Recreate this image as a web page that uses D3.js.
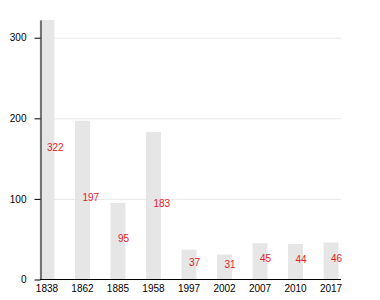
<!DOCTYPE html>
<html>
<head>
<meta charset="utf-8">
<script src="https://cdn.jsdelivr.net/npm/d3@7"></script>
<style>
  body { margin: 0; background: #fff; }
  svg { display: block; font-family: "Liberation Sans", Arial, sans-serif; }
</style>
</head>
<body>
<svg width="380" height="300"></svg>
<script>
const years = ["1838", "1862", "1885", "1958", "1997", "2002", "2007", "2010", "2017"];
const counts = [322, 197, 95, 183, 37, 31, 45, 44, 46];
const yTicks = [0, 100, 200, 300];

const svg = d3.select("svg");

// plot edges
const plotLeft = 40, plotRight = 341, plotTop = 20, plotBottom = 279.5;

const x = d3.scaleBand()
    .domain(years)
    .range([39.5, 338.5])
    .paddingInner(0.58)
    .paddingOuter(0);

const y = d3.scaleLinear()
    .domain([0, d3.max(counts)])
    .range([plotBottom, plotTop]);

// grid lines
svg.append("g")
    .selectAll("line")
    .data(yTicks.filter(d => d > 0))
    .enter()
    .append("line")
    .attr("x1", plotLeft)
    .attr("x2", plotRight)
    .attr("y1", d => y(d) + 0.5)
    .attr("y2", d => y(d) + 0.5)
    .attr("stroke", "#e8e8e8")
    .attr("stroke-width", 1);

const data = years.map((yr, i) => ({ year: yr, value: counts[i] }));

// bars
svg.append("g")
    .selectAll("rect")
    .data(data)
    .enter()
    .append("rect")
    .attr("x", d => x(d.year))
    .attr("y", d => y(d.value))
    .attr("width", x.bandwidth())
    .attr("height", d => plotBottom - y(d.value))
    .attr("fill", "#e6e6e6");

// value labels
svg.append("g")
    .selectAll("text")
    .data(data)
    .enter()
    .append("text")
    .attr("x", d => x(d.year) + x.bandwidth() / 2)
    .attr("y", d => y(d.value / 2) + 1)
    .attr("font-size", 10)
    .attr("fill", "#e8202a")
    .text(d => d.value);

// y axis
const yAxis = svg.append("g")
    .attr("transform", `translate(${plotLeft + 0.5},0)`)
    .call(d3.axisLeft(y).tickValues(yTicks).tickSize(6).tickSizeOuter(0).tickPadding(8));
yAxis.selectAll("text").attr("font-size", 10).attr("fill", "#000");
yAxis.selectAll("line, path").attr("stroke", "#000");

// x axis
const xAxis = svg.append("g")
    .attr("transform", `translate(0,${plotBottom})`)
    .call(d3.axisBottom(x).tickSize(0).tickPadding(5));
xAxis.select(".domain").remove();
xAxis.selectAll("text").attr("font-size", 10).attr("fill", "#000");

svg.append("line")
    .attr("x1", plotLeft)
    .attr("x2", plotRight)
    .attr("y1", plotBottom)
    .attr("y2", plotBottom)
    .attr("stroke", "#000");
</script>
</body>
</html>
